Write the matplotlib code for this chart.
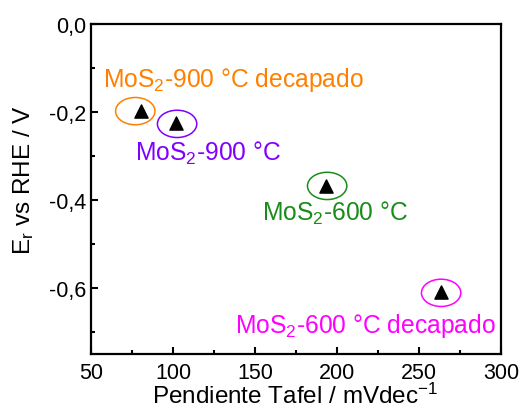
import matplotlib
matplotlib.use("Agg")
import matplotlib.pyplot as plt
from matplotlib.patches import Ellipse
from matplotlib.ticker import MultipleLocator, FuncFormatter

plt.rcParams['font.family'] = ['Liberation Sans', 'DejaVu Sans']
plt.rcParams['mathtext.fontset'] = 'custom'
plt.rcParams['mathtext.rm'] = 'Liberation Sans'
plt.rcParams['mathtext.it'] = 'Liberation Sans'

# Tafel slope (mV/dec) and onset potential (V vs RHE) per sample
samples = ["MoS$_2$-900 °C decapado", "MoS$_2$-900 °C", "MoS$_2$-600 °C", "MoS$_2$-600 °C decapado"]
tafel = [80.5, 102, 193.5, 263.5]
onset = [-0.198, -0.225, -0.368, -0.608]
colors = ["#FF8000", "#8000FF", "#1A8C1A", "#FF00FF"]
# label anchor (left, baseline) in data units
label_x = [57.5, 77, 154.5, 137.5]
label_y = [-0.142, -0.309, -0.444, -0.700]
# ellipse centre offsets from each point
ell_dx = [-3.5, 0.5, 0.5, 0.0]
ell_dy = [0.0, -0.002, 0.0, -0.003]

fig = plt.figure(figsize=(5.22, 4.10), dpi=100)
ax = fig.add_axes([91/522, 1 - 355/410, 410/522, 330/410])

ax.scatter(tafel, onset, marker="^", s=90, color="black", zorder=3)

for x, y, c, dx, dy in zip(tafel, onset, colors, ell_dx, ell_dy):
    ax.add_patch(Ellipse((x + dx, y + dy), width=24.0, height=0.062,
                         fill=False, edgecolor=c, linewidth=1.1, zorder=2))

for name, lx, ly, c in zip(samples, label_x, label_y, colors):
    ax.text(lx, ly, name, color=c, fontsize=17.7, ha="left", va="baseline")

ax.set_xlim(50, 300)
ax.set_ylim(-0.75, 0.0)
ax.xaxis.set_major_locator(MultipleLocator(50))
ax.xaxis.set_minor_locator(MultipleLocator(25))
ax.yaxis.set_major_locator(MultipleLocator(0.2))
ax.yaxis.set_minor_locator(MultipleLocator(0.1))
ax.yaxis.set_major_formatter(FuncFormatter(lambda v, p: f"{v:.1f}".replace(".", ",").replace("-0,0", "0,0")))
ax.xaxis.set_major_formatter(FuncFormatter(lambda v, p: f"{v:.0f}"))

ax.tick_params(which="both", direction="in", top=False, right=False, labelsize=15.5, width=1.5)
ax.tick_params(which="major", length=5)
ax.tick_params(axis="x", which="major", pad=6)
ax.tick_params(which="minor", length=3)
for s in ax.spines.values():
    s.set_linewidth(1.6)

ax.set_xlabel("Pendiente Tafel / mVdec$^{-1}$", fontsize=17.5)
ax.set_ylabel("E$_r$ vs RHE / V", fontsize=17.5)
ax.xaxis.set_label_coords(0.4976, -0.088)
ax.yaxis.set_label_coords(-0.135, 0.53)

fig.savefig("out.png", dpi=100)
